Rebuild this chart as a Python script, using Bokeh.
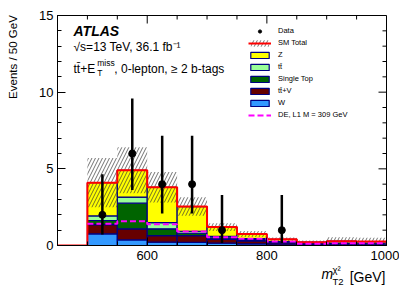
import numpy as np
from bokeh.plotting import figure
from bokeh.models import (ColumnDataSource, Range1d, FixedTicker, Label, Legend,
                          LegendItem, Title)
from bokeh.embed import file_html
from bokeh.resources import INLINE

# ---------------- data ----------------
edges = [450, 500, 550, 600, 650, 700, 750, 800, 850, 900, 950, 1000]
bkg_W = [0, 0.76, 0.37, 0.22, 0.20, 0.15, 0.10, 0.05, 0.02, 0.03, 0.03]
bkg_ttV = [0, 0.60, 0.72, 0.43, 0.45, 0.25, 0.20, 0.12, 0.06, 0.08, 0.07]
bkg_singletop = [0, 0.27, 1.67, 0.44, 0.15, 0.10, 0.08, 0.05, 0.03, 0.03, 0.03]
bkg_ttbar = [0, 0.30, 0.40, 0.40, 0.13, 0.10, 0.07, 0.03, 0.01, 0.02, 0.02]
bkg_Z = [0, 2.17, 1.74, 2.31, 1.61, 0.60, 0.30, 0.15, 0.10, 0.12, 0.11]
sm_unc = [0, 1.6, 1.5, 1.0, 0.6, 0.25, 0.2, 0.12, 0.1, 0.25, 0.25]
signal_DE = [0, 1.42, 1.58, 1.38, 0.91, 0.54, 0.44, 0.26, 0.11, 0.15, 0.15]

data_x = [525, 575, 625, 675, 725, 825]
data_y = [2, 6, 4, 4, 1, 1]
data_lo = [0.71, 3.62, 2.09, 2.09, 0.17, 0.17]
data_hi = [4.64, 9.58, 7.16, 7.16, 3.30, 3.30]

stack_names = ["W", "tt\u0304+V", "Single Top", "tt\u0304", "Z"]
stack_values = [bkg_W, bkg_ttV, bkg_singletop, bkg_ttbar, bkg_Z]
stack_colors = ["#3399ff", "#660000", "#006400", "#99ff99", "#ffff00"]

x_ticks = [600, 800, 1000]
x_minor = list(range(450, 1001, 50))
y_ticks = [0, 5, 10, 15]
y_minor = list(range(0, 16))

FONT = "Liberation Sans"

# ---------------- figure ----------------
p = figure(width=399, height=288, x_range=Range1d(450, 1000), y_range=Range1d(0, 15),
           output_backend="svg", toolbar_location=None,
           min_border_left=57, min_border_right=13, min_border_top=15, min_border_bottom=43)
p.grid.visible = False
p.outline_line_color = "black"
p.outline_line_width = 1
p.background_fill_color = "white"
p.border_fill_color = "white"

lo_edges = np.array(edges[:-1], dtype=float)
hi_edges = np.array(edges[1:], dtype=float)

stack_renderers = []
bottom = np.zeros(len(lo_edges))
for name, vals, col in zip(stack_names, stack_values, stack_colors):
    vals = np.array(vals, dtype=float)
    top = bottom + vals
    m = vals > 0
    src = ColumnDataSource(dict(left=lo_edges[m], right=hi_edges[m], bottom=bottom[m], top=top[m]))
    r = p.quad(left="left", right="right", bottom="bottom", top="top", source=src,
               fill_color=col, line_color="#000080", line_width=1.2)
    stack_renderers.append(r)
    bottom = top

total = bottom
unc = np.array(sm_unc)
m = total > 0
band = ColumnDataSource(dict(left=lo_edges[m], right=hi_edges[m],
                             bottom=(total - unc)[m], top=(total + unc)[m]))
band_r = p.quad(left="left", right="right", bottom="bottom", top="top", source=band,
                fill_alpha=0, line_alpha=0, hatch_pattern="/", hatch_color="#333333",
                hatch_scale=7, hatch_weight=0.7)

# SM total step line
sx = np.repeat(np.array(edges, dtype=float), 2)[1:-1]
sy = np.repeat(total, 2)
red_r = p.line(sx, sy, line_color="#ff0000", line_width=2)

# signal dashed step line
sig = np.array(signal_DE, dtype=float)
gx = np.repeat(np.array(edges[1:], dtype=float), 2)[1:-1]
gy = np.repeat(sig[1:], 2)
sig_r = p.line(gx, gy, line_color="#ff00ff", line_width=2, line_dash="6 3")

# data
p.segment(x0=data_x, y0=data_lo, x1=data_x, y1=data_hi, line_color="black", line_width=2.5)
data_r = p.scatter(data_x, data_y, size=7, color="black")

# ---------------- axes ----------------
def style_axis(ax, ticks, minor):
    ax.ticker = FixedTicker(ticks=ticks, minor_ticks=minor)
    ax.major_tick_in = 8
    ax.major_tick_out = 0
    ax.minor_tick_in = 4
    ax.minor_tick_out = 0
    ax.axis_line_color = "black"
    ax.major_tick_line_color = "black"
    ax.minor_tick_line_color = "black"
    ax.major_label_text_font = FONT
    ax.major_label_text_font_size = "13px"
    ax.major_label_text_color = "black"
    ax.major_label_standoff = 5

style_axis(p.xaxis[0], x_ticks, x_minor)
style_axis(p.yaxis[0], y_ticks, y_minor)
yax = p.yaxis[0]
yax.major_label_standoff = 4
# centred axis title, padded with no-break spaces so that the words sit at the top end
yax.axis_label = "\u00a0" * 46 + "Events / 50 GeV"
yax.axis_label_text_font = FONT
yax.axis_label_text_font_size = "11.5px"
yax.axis_label_text_font_style = "normal"
yax.axis_label_text_color = "black"
yax.axis_label_standoff = 17

# mirrored ticks on top and right edges of the frame
x_top = p.y_range.end
y_right = p.x_range.end
x_minor_only = [v for v in x_minor if v not in x_ticks]
y_minor_only = [v for v in y_minor if v not in y_ticks]
p.ray(x=x_ticks, y=[x_top] * len(x_ticks), length=8, length_units="screen",
      angle=-np.pi / 2, line_color="black", line_width=1)
p.ray(x=x_minor_only, y=[x_top] * len(x_minor_only), length=4, length_units="screen",
      angle=-np.pi / 2, line_color="black", line_width=1)
p.ray(x=[y_right] * len(y_ticks), y=y_ticks, length=8, length_units="screen",
      angle=np.pi, line_color="black", line_width=1)
p.ray(x=[y_right] * len(y_minor_only), y=y_minor_only, length=4, length_units="screen",
      angle=np.pi, line_color="black", line_width=1)

# ---------------- legend ----------------
items = [LegendItem(label="Data", renderers=[data_r]),
         LegendItem(label="SM Total", renderers=[band_r, red_r])]
for name, r in reversed(list(zip(stack_names, stack_renderers))):
    items.append(LegendItem(label=name, renderers=[r]))
items.append(LegendItem(label="DE, L1 M = 309 GeV", renderers=[sig_r]))

legend = Legend(items=items, location=(191, 126), padding=0, margin=0,
                glyph_width=23, glyph_height=8, label_height=9, spacing=3,
                label_standoff=7, label_text_font=FONT, label_text_font_size="7.5px",
                label_text_color="black",
                border_line_color=None, background_fill_alpha=0)
p.add_layout(legend, "center")

# ---------------- texts inside the frame ----------------
def lab(x, y, text, size, style="normal"):
    p.add_layout(Label(x=x, y=y, text=text, text_font=FONT, text_font_size=size,
                       text_font_style=style, text_align="left", text_baseline="middle",
                       text_color="black"))

lab(476.8, 14.02, "ATLAS", "14px", "bold italic")
lab(476.8, 12.93, "\u221as=13 TeV, 36.1 fb\u207b\u00b9", "12px")
lab(476.8, 11.54, "tt\u0304+E", "12px")
lab(516.5, 11.90, "miss", "8.5px")
lab(516.5, 11.22, "T", "8.5px")
lab(545.0, 11.54, ", 0-lepton, \u2265 2 b-tags", "12px")

# ---------------- x-axis title (below panel) ----------------
def title(text, size, align, offset, standoff, valign, style="normal"):
    return Title(text=text, text_font=FONT, text_font_size=size, text_font_style=style,
                 align=align, offset=offset, standoff=standoff, vertical_align=valign,
                 text_color="black")

p.add_layout(title("\u03c7\u00b2", "9.5px", "left", 275, 1, "middle"), "below")
p.add_layout(title("m", "14px", "left", 264, -21, "top", "italic"), "below")
p.add_layout(title("[GeV]", "14px", "right", 1, -16, "top"), "below")
p.add_layout(title("T2", "9.5px", "left", 275, -6, "top"), "below")

open("out.html", "w").write(file_html(p, INLINE))
